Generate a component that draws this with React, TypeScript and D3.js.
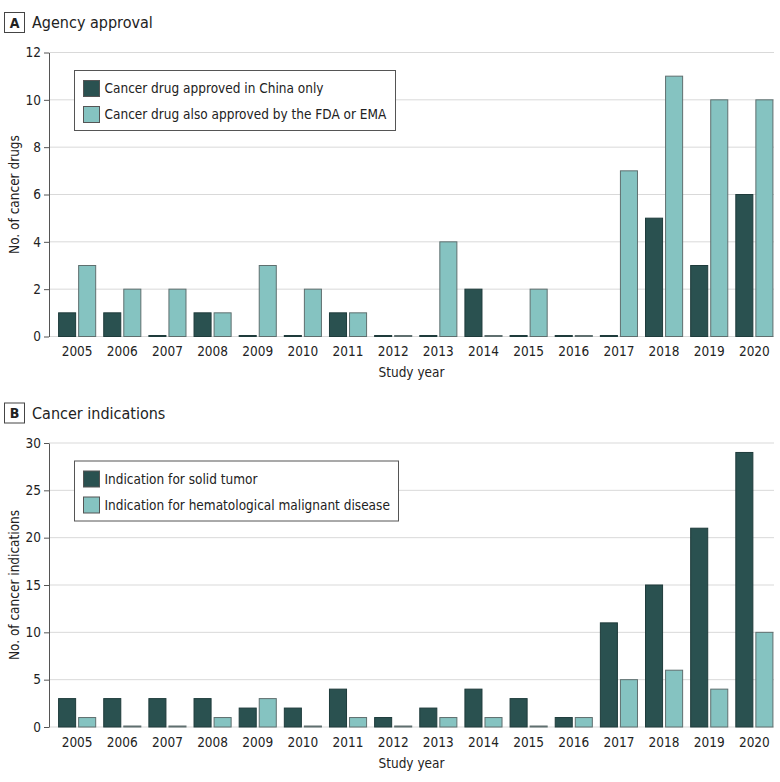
import React, { useEffect, useRef } from 'react';
import * as d3 from 'd3';

// study years shared by both panels
const years = ['2005', '2006', '2007', '2008', '2009', '2010', '2011', '2012', '2013', '2014', '2015', '2016', '2017', '2018', '2019', '2020'];

// panel A
const chinaOnly = [1, 1, 0, 1, 0, 0, 1, 0, 0, 2, 0, 0, 0, 5, 3, 6];
const alsoFdaEma = [3, 2, 2, 1, 3, 2, 1, 0, 4, 0, 2, 0, 7, 11, 10, 10];
const ticksA = [0, 2, 4, 6, 8, 10, 12];

// panel B
const solidTumor = [3, 3, 3, 3, 2, 2, 4, 1, 2, 4, 3, 1, 11, 15, 21, 29];
const hematological = [1, 0, 0, 1, 3, 0, 1, 0, 1, 1, 0, 1, 5, 6, 4, 10];
const ticksB = [0, 5, 10, 15, 20, 25, 30];

const DARK = '#2a5150';
const LIGHT = '#85c3c1';
const FONT = '"DejaVu Sans Condensed", "Liberation Sans", sans-serif';
const FS = '13.5px';

type Panel = {
  top: number;
  letter: string;
  title: string;
  yLabel: string;
  series: number[][];
  names: string[];
  ticks: number[];
  max: number;
};

const App = () => {
  const ref = useRef<SVGSVGElement>(null);

  useEffect(() => {
    document.body.style.margin = '0';
    const svg = d3.select(ref.current);
    svg.selectAll('*').remove();

    const left = 49;
    const right = 774;

    const x = d3.scaleBand()
      .domain(years)
      .range([left, right])
      .paddingInner(0.156)
      .paddingOuter(0.107)
      .align(0.94);

    const sub = d3.scaleBand()
      .domain(['0', '1'])
      .range([0, x.bandwidth()])
      .paddingInner(0.1);

    const drawPanel = (p: Panel) => {
      const g = svg.append('g').attr('transform', `translate(0,${p.top})`);
      const plotTop = 52.5;
      const plotBottom = 336.5;

      // panel header
      g.append('rect')
        .attr('x', 4.5).attr('y', 12.5)
        .attr('width', 20).attr('height', 20)
        .attr('fill', 'white').attr('stroke', '#444');
      g.append('text')
        .attr('x', 14.5).attr('y', 27.5)
        .attr('text-anchor', 'middle')
        .style('font-family', FONT).style('font-size', '14px').style('font-weight', 'bold')
        .attr('fill', '#222')
        .text(p.letter);
      g.append('text')
        .attr('x', 32).attr('y', 28)
        .style('font-family', FONT).style('font-size', '16px')
        .attr('fill', '#222')
        .text(p.title);

      const y = d3.scaleLinear().domain([0, p.max]).range([plotBottom, plotTop]);

      // gridlines
      g.append('g').selectAll('line')
        .data(p.ticks)
        .enter()
        .append('line')
        .attr('x1', left).attr('x2', right)
        .attr('y1', d => y(d)).attr('y2', d => y(d))
        .attr('stroke', '#d9d9d9');

      // y axis
      const yAxis = g.append('g')
        .attr('transform', `translate(${left},0)`)
        .call(d3.axisLeft(y).tickValues(p.ticks).tickSize(5).tickPadding(3).tickSizeOuter(0));
      yAxis.select('.domain').attr('stroke', '#555');
      yAxis.selectAll('.tick line').attr('stroke', '#555');
      yAxis.selectAll('text')
        .style('font-family', FONT).style('font-size', FS).attr('fill', '#222');

      // bars
      p.series.forEach((vals, si) => {
        g.append('g').selectAll('rect')
          .data(vals)
          .enter()
          .append('rect')
          .attr('x', (_, i) => (x(years[i]) as number) + (sub(String(si)) as number) + 0.5)
          .attr('y', d => Math.min(y(d), plotBottom - 1))
          .attr('width', sub.bandwidth() - 1)
          .attr('height', d => Math.max(plotBottom - y(d), 1))
          .attr('fill', si === 0 ? DARK : LIGHT)
          .attr('stroke', si === 0 ? '#1e3b3b' : '#5f6f6f')
          .attr('stroke-width', 1);
      });

      // x axis labels
      g.append('g').selectAll('text')
        .data(years)
        .enter()
        .append('text')
        .attr('x', d => (x(d) as number) + x.bandwidth() / 2)
        .attr('y', 356)
        .attr('text-anchor', 'middle')
        .style('font-family', FONT).style('font-size', FS)
        .attr('fill', '#222')
        .text(d => d);

      g.append('text')
        .attr('x', (left + right) / 2)
        .attr('y', 377)
        .attr('text-anchor', 'middle')
        .style('font-family', FONT).style('font-size', FS)
        .attr('fill', '#222')
        .text('Study year');

      g.append('text')
        .attr('transform', `translate(19,${(plotTop + plotBottom) / 2}) rotate(-90)`)
        .attr('text-anchor', 'middle')
        .style('font-family', FONT).style('font-size', FS)
        .attr('fill', '#222')
        .text(p.yLabel);

      // legend
      const legend = g.append('g').attr('transform', 'translate(74.5,70.5)');
      const box = legend.append('rect')
        .attr('height', 60)
        .attr('fill', 'white').attr('stroke', '#555');
      let widest = 0;
      p.names.forEach((name, i) => {
        legend.append('rect')
          .attr('x', 9).attr('y', 10 + i * 26)
          .attr('width', 16).attr('height', 16)
          .attr('fill', i === 0 ? DARK : LIGHT)
          .attr('stroke', '#555');
        const t = legend.append('text')
          .attr('x', 30).attr('y', 18 + i * 26)
          .attr('dy', '0.35em')
          .style('font-family', FONT).style('font-size', FS)
          .attr('fill', '#222')
          .text(name);
        const node = t.node() as SVGTextElement;
        widest = Math.max(widest, node.getComputedTextLength());
      });
      box.attr('width', Math.round(30 + widest + 9));
    };

    drawPanel({
      top: 0,
      letter: 'A',
      title: 'Agency approval',
      yLabel: 'No. of cancer drugs',
      series: [chinaOnly, alsoFdaEma],
      names: ['Cancer drug approved in China only', 'Cancer drug also approved by the FDA or EMA'],
      ticks: ticksA,
      max: 12,
    });

    drawPanel({
      top: 390.5,
      letter: 'B',
      title: 'Cancer indications',
      yLabel: 'No. of cancer indications',
      series: [solidTumor, hematological],
      names: ['Indication for solid tumor', 'Indication for hematological malignant disease'],
      ticks: ticksB,
      max: 30,
    });
  }, []);

  return <svg ref={ref} width={780} height={782} style={{ display: 'block', background: 'white' }} />;
};

export default App;
